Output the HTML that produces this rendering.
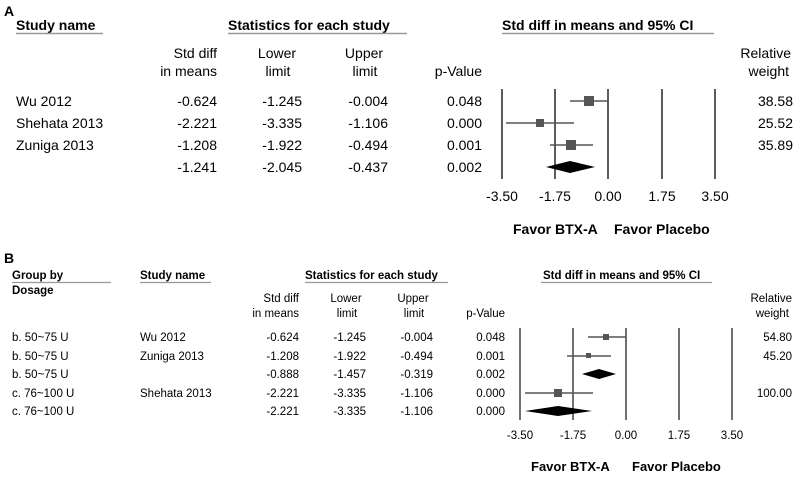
<!DOCTYPE html>
<html><head><meta charset="utf-8"><style>
html,body{margin:0;padding:0;background:#fff;}
svg{display:block;font-family:"Liberation Sans",Arial,sans-serif;}
</style></head><body>
<svg width="798" height="477" viewBox="0 0 798 477" xmlns="http://www.w3.org/2000/svg">
<g fill="#000">
<!-- Panel A -->
<text x="4" y="16" font-size="14" font-weight="bold">A</text>
<g font-size="14" font-weight="bold">
<text x="16" y="30">Study name</text>
<text x="228" y="30">Statistics for each study</text>
<text x="502" y="30">Std diff in means and 95% CI</text>
</g>
<g stroke="#999" stroke-width="1.5">
<line x1="16" y1="33.5" x2="103" y2="33.5"/>
<line x1="228" y1="33.5" x2="407" y2="33.5"/>
<line x1="502" y1="33.5" x2="714" y2="33.5"/>
</g>
<g font-size="14">
<text x="217" y="58" text-anchor="end">Std diff</text>
<text x="217" y="76" text-anchor="end">in means</text>
<text x="277" y="58" text-anchor="middle">Lower</text>
<text x="278" y="76" text-anchor="middle">limit</text>
<text x="364" y="58" text-anchor="middle">Upper</text>
<text x="365" y="76" text-anchor="middle">limit</text>
<text x="482" y="76" text-anchor="end">p-Value</text>
<text x="791" y="58" text-anchor="end">Relative</text>
<text x="789" y="76" text-anchor="end">weight</text>
<text x="16" y="106">Wu 2012</text>
<text x="16" y="128">Shehata 2013</text>
<text x="16" y="150">Zuniga 2013</text>
<text x="217" y="106" text-anchor="end">-0.624</text><text x="302" y="106" text-anchor="end">-1.245</text><text x="388" y="106" text-anchor="end">-0.004</text><text x="482" y="106" text-anchor="end">0.048</text>
<text x="217" y="128" text-anchor="end">-2.221</text><text x="302" y="128" text-anchor="end">-3.335</text><text x="388" y="128" text-anchor="end">-1.106</text><text x="482" y="128" text-anchor="end">0.000</text>
<text x="217" y="150" text-anchor="end">-1.208</text><text x="302" y="150" text-anchor="end">-1.922</text><text x="388" y="150" text-anchor="end">-0.494</text><text x="482" y="150" text-anchor="end">0.001</text>
<text x="217" y="172" text-anchor="end">-1.241</text><text x="302" y="172" text-anchor="end">-2.045</text><text x="388" y="172" text-anchor="end">-0.437</text><text x="482" y="172" text-anchor="end">0.002</text>
<text x="793" y="106" text-anchor="end">38.58</text>
<text x="793" y="128" text-anchor="end">25.52</text>
<text x="793" y="150" text-anchor="end">35.89</text>
<text x="502" y="201" text-anchor="middle">-3.50</text>
<text x="555" y="201" text-anchor="middle">-1.75</text>
<text x="608" y="201" text-anchor="middle">0.00</text>
<text x="662" y="201" text-anchor="middle">1.75</text>
<text x="715" y="201" text-anchor="middle">3.50</text>
</g>
<g font-size="14" font-weight="bold">
<text x="513" y="234">Favor BTX-A</text>
<text x="614" y="234">Favor Placebo</text>
</g>
<g stroke="#333" stroke-width="1.6">
<line x1="502" y1="89" x2="502" y2="179"/>
<line x1="555" y1="89" x2="555" y2="179"/>
<line x1="608" y1="89" x2="608" y2="179"/>
<line x1="662" y1="89" x2="662" y2="179"/>
<line x1="715" y1="89" x2="715" y2="179"/>
</g>
<g stroke="#555" stroke-width="1.6">
<line x1="570" y1="101" x2="608" y2="101"/>
<line x1="506" y1="123" x2="574" y2="123"/>
<line x1="550" y1="145" x2="593" y2="145"/>
</g>
<g fill="#555">
<rect x="584" y="96" width="10" height="10"/>
<rect x="536" y="119" width="8" height="8"/>
<rect x="566" y="140" width="10" height="10"/>
</g>
<polygon points="546,167 570,161 595,167 570,173" fill="#000"/>

<!-- Panel B -->
<text x="4" y="263" font-size="14" font-weight="bold">B</text>
<g font-size="11.5" font-weight="bold">
<text x="12" y="279">Group by</text>
<text x="12" y="294">Dosage</text>
<text x="140" y="279">Study name</text>
<text x="305" y="279">Statistics for each study</text>
<text x="543" y="279">Std diff in means and 95% CI</text>
</g>
<g stroke="#999" stroke-width="1.3">
<line x1="12" y1="282.5" x2="111" y2="282.5"/>
<line x1="140" y1="282.5" x2="211" y2="282.5"/>
<line x1="305" y1="282.5" x2="448" y2="282.5"/>
<line x1="541" y1="282.5" x2="712" y2="282.5"/>
</g>
<g font-size="11.5">
<text x="299" y="302" text-anchor="end">Std diff</text>
<text x="299" y="317" text-anchor="end">in means</text>
<text x="346" y="302" text-anchor="middle">Lower</text>
<text x="347" y="317" text-anchor="middle">limit</text>
<text x="413" y="302" text-anchor="middle">Upper</text>
<text x="414" y="317" text-anchor="middle">limit</text>
<text x="505" y="317" text-anchor="end">p-Value</text>
<text x="792" y="302" text-anchor="end">Relative</text>
<text x="789" y="317" text-anchor="end">weight</text>
<text x="12" y="341">b. 50~75 U</text>
<text x="12" y="360">b. 50~75 U</text>
<text x="12" y="378">b. 50~75 U</text>
<text x="12" y="397">c. 76~100 U</text>
<text x="12" y="415">c. 76~100 U</text>
<text x="140" y="341">Wu 2012</text>
<text x="140" y="360">Zuniga 2013</text>
<text x="140" y="397">Shehata 2013</text>
<text x="299" y="341" text-anchor="end">-0.624</text><text x="366" y="341" text-anchor="end">-1.245</text><text x="433" y="341" text-anchor="end">-0.004</text><text x="505" y="341" text-anchor="end">0.048</text>
<text x="299" y="360" text-anchor="end">-1.208</text><text x="366" y="360" text-anchor="end">-1.922</text><text x="433" y="360" text-anchor="end">-0.494</text><text x="505" y="360" text-anchor="end">0.001</text>
<text x="299" y="378" text-anchor="end">-0.888</text><text x="366" y="378" text-anchor="end">-1.457</text><text x="433" y="378" text-anchor="end">-0.319</text><text x="505" y="378" text-anchor="end">0.002</text>
<text x="299" y="397" text-anchor="end">-2.221</text><text x="366" y="397" text-anchor="end">-3.335</text><text x="433" y="397" text-anchor="end">-1.106</text><text x="505" y="397" text-anchor="end">0.000</text>
<text x="299" y="415" text-anchor="end">-2.221</text><text x="366" y="415" text-anchor="end">-3.335</text><text x="433" y="415" text-anchor="end">-1.106</text><text x="505" y="415" text-anchor="end">0.000</text>
<text x="792" y="341" text-anchor="end">54.80</text>
<text x="792" y="360" text-anchor="end">45.20</text>
<text x="792" y="397" text-anchor="end">100.00</text>
<text x="520" y="439" text-anchor="middle">-3.50</text>
<text x="573" y="439" text-anchor="middle">-1.75</text>
<text x="626" y="439" text-anchor="middle">0.00</text>
<text x="679" y="439" text-anchor="middle">1.75</text>
<text x="732" y="439" text-anchor="middle">3.50</text>
</g>
<g font-size="13" font-weight="bold">
<text x="531" y="471">Favor BTX-A</text>
<text x="632" y="471">Favor Placebo</text>
</g>
<g stroke="#333" stroke-width="1.4">
<line x1="520" y1="328" x2="520" y2="420"/>
<line x1="573" y1="328" x2="573" y2="420"/>
<line x1="626" y1="328" x2="626" y2="420"/>
<line x1="679" y1="328" x2="679" y2="420"/>
<line x1="732" y1="328" x2="732" y2="420"/>
</g>
<g stroke="#555" stroke-width="1.5">
<line x1="588" y1="337" x2="626" y2="337"/>
<line x1="567" y1="356" x2="611" y2="356"/>
<line x1="525" y1="393" x2="593" y2="393"/>
</g>
<g fill="#555">
<rect x="603" y="334" width="6" height="6"/>
<rect x="586" y="353" width="5" height="5"/>
<rect x="554" y="389" width="8" height="8"/>
</g>
<polygon points="582,374 599,369 616,374 599,379" fill="#000"/>
<polygon points="525,411 558,406 592,411 558,416" fill="#000"/>
</g>
</svg>
</body></html>
